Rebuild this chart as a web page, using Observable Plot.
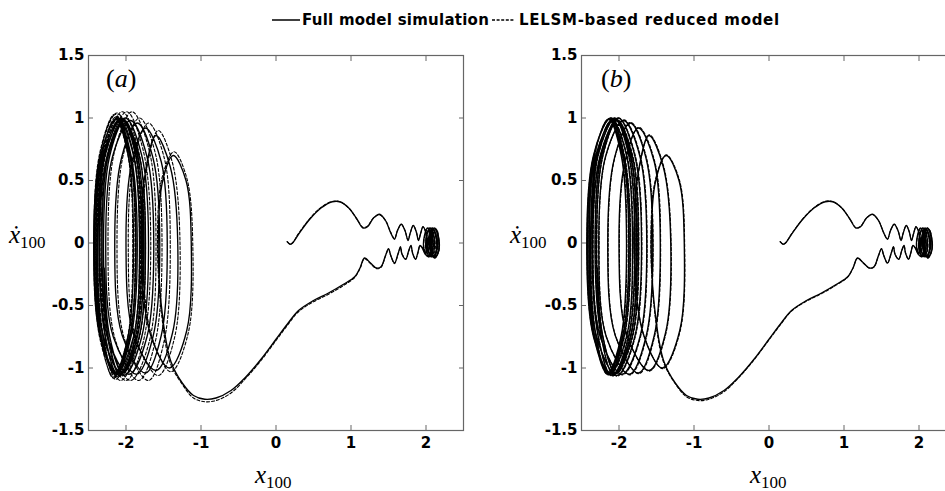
<!DOCTYPE html>
<html><head><meta charset="utf-8">
<script src="https://cdn.jsdelivr.net/npm/d3@7"></script>
<script src="https://cdn.jsdelivr.net/npm/@observablehq/plot@0.6"></script>
<style>
html,body{margin:0;padding:0;background:#fff;overflow:hidden}
#wrap{position:relative;width:945px;height:491px;overflow:hidden;background:#fff}
.panel{position:absolute;top:0;width:470px;height:491px}
.lab{position:absolute;font-family:"Liberation Serif","Times New Roman",serif;color:#000;white-space:nowrap;line-height:1}
.sub{position:relative;top:5px;font-size:17px;font-style:normal;line-height:1}
#legend{position:absolute;left:272px;top:11px;font:bold 15px "DejaVu Sans",sans-serif;display:flex;align-items:center;color:#000;white-space:nowrap}
#legend svg{display:block}
</style></head><body>
<div id="wrap">
  <div id="pa" class="panel" style="left:0"></div>
  <div id="pb" class="panel" style="left:493px"></div>
  <div id="legend">
    <svg width="30" height="10"><line x1="0" x2="28" y1="5" y2="5" stroke="#000" stroke-width="1.5"/></svg>
    <span style="letter-spacing:0.25px">Full model simulation</span>
    <svg width="27" height="10" style="margin-left:3px"><line x1="0" x2="23" y1="5" y2="5" stroke="#000" stroke-width="1.3" stroke-dasharray="3,1.6"/></svg>
    <span style="letter-spacing:0.7px">LELSM-based reduced model</span>
  </div>
</div>
<script>
// ---- tick values and labels ----
const xTicks = [-2, -1, 0, 1, 2];
const xTickLabels = ["-2", "-1", "0", "1", "2"];
const yTicks = [-1.5, -1, -0.5, 0, 0.5, 1, 1.5];
const yTickLabels = ["-1.5", "-1", "-0.5", "0", "0.5", "1", "1.5"];
const panelTags = ["a", "b"];

// ---- full model simulation trajectory [x100, dx100/dt] (same in both panels) ----
const fullModel = [
[0.15,0.01],[0.19,-0.01],[0.22,0.0],[0.3,0.07],[0.45,0.19],[0.6,0.28],[0.75,0.33],[0.85,0.33],[0.97,0.28],[1.08,0.19],[1.16,0.12],[1.22,0.13],[1.3,0.2],[1.38,0.23],[1.46,0.18],[1.53,0.08],[1.58,0.03],[1.62,0.1],[1.67,0.15],[1.72,0.1],[1.76,0.02],[1.79,0.08],[1.83,0.14],[1.87,0.09],[1.9,0.02],[1.93,0.08],[1.96,0.13],[2.0,0.08],
[2.02,0.0],[2.0,-0.08],[1.97,-0.04],[1.98,0.06],[2.02,0.12],[2.06,0.06],[2.07,-0.04],[2.04,-0.1],[2.0,-0.05],[2.01,0.06],[2.05,0.12],[2.1,0.06],[2.11,-0.05],[2.07,-0.11],[2.03,-0.05],[2.04,0.06],[2.08,0.12],[2.13,0.05],[2.14,-0.05],[2.1,-0.11],[2.06,-0.05],[2.07,0.06],[2.11,0.12],[2.16,0.05],[2.17,-0.06],[2.12,-0.12],[2.08,-0.05],[2.09,0.06],[2.13,0.11],[2.17,0.04],[2.17,-0.06],[2.12,-0.11],[2.06,-0.06],[2.05,0.05],[2.09,0.11],[2.14,0.05],[2.15,-0.05],[2.1,-0.11],[2.03,-0.07],[2.0,0.03],[2.03,0.1],[2.08,0.05],[2.09,-0.05],[2.04,-0.11],[1.99,-0.09],
[1.95,-0.04],[1.92,-0.02],[1.89,-0.08],[1.86,-0.13],[1.82,-0.08],[1.8,-0.02],[1.77,-0.06],[1.73,-0.13],[1.68,-0.09],[1.66,-0.03],[1.63,-0.08],[1.58,-0.16],[1.53,-0.1],[1.5,-0.045],[1.46,-0.1],[1.4,-0.19],[1.34,-0.2],[1.26,-0.16],[1.18,-0.12],[1.12,-0.2],[1.05,-0.27],[0.9,-0.33],[0.7,-0.4],[0.5,-0.46],[0.3,-0.54],[0.15,-0.65],[0.0,-0.77],[-0.2,-0.93],[-0.4,-1.07],[-0.6,-1.18],[-0.8,-1.24],[-0.95,-1.25],[-1.1,-1.22],
[-1.25,-1.12],[-1.4,-0.95],[-1.51,-0.6],[-1.57,0],[-1.51,0.5],[-1.37,0.70],[-1.2,0.5],[-1.13,0],[-1.19,-0.7],[-1.42,-1.0],
[-1.68,-0.72],[-1.80,0],[-1.73,0.61],[-1.60,0.86],[-1.41,0.61],[-1.31,0],[-1.38,-0.72],[-1.6,-1.02],
[-1.9,-0.73],[-2.0,0],[-1.92,0.65],[-1.74,0.92],[-1.53,0.65],[-1.45,0],[-1.53,-0.74],[-1.74,-1.04],
[-2.05,-0.74],[-2.15,0],[-2.06,0.68],[-1.85,0.96],[-1.64,0.68],[-1.55,0],[-1.64,-0.75],[-1.86,-1.05],
[-2.17,-0.75],[-2.27,0],[-2.18,0.69],[-1.94,0.98],[-1.72,0.69],[-1.63,0],[-1.72,-0.75],[-1.96,-1.05],
[-2.25,-0.75],[-2.35,0],[-2.25,0.7],[-2.01,1.0],[-1.79,0.7],[-1.70,0],[-1.79,-0.75],[-2.03,-1.06],
[-2.3,-0.75],[-2.40,0],[-2.31,0.7],[-2.06,1.0],[-1.85,0.7],[-1.76,0],[-1.85,-0.75],[-2.09,-1.06],
[-2.34,-0.75],[-2.43,0],[-2.34,0.7],[-2.11,1.0],[-1.9,0.7],[-1.82,0],[-1.9,-0.75],[-2.13,-1.05],
[-2.34,-0.74],[-2.42,0],[-2.34,0.7],[-2.13,0.99],[-1.95,0.7],[-1.87,0],[-1.95,-0.74],[-2.15,-1.05],
[-2.33,-0.74],[-2.40,0],[-2.33,0.7],[-2.14,0.99],[-1.97,0.7],[-1.90,0],[-1.97,-0.74],[-2.15,-1.04],
[-2.31,-0.74],[-2.38,0],[-2.3,0.69],[-2.1,0.98],[-1.93,0.69],[-1.85,0],[-1.93,-0.74],[-2.12,-1.04],
[-2.28,-0.74],[-2.36,0],[-2.28,0.7],[-2.06,0.99],[-1.87,0.7],[-1.79,0],[-1.87,-0.74],[-2.08,-1.05],
[-2.24,-0.74],[-2.32,0],[-2.24,0.69],[-2.03,0.98],[-1.82,0.69],[-1.74,0],[-1.82,-0.74],[-2.04,-1.04],
[-2.22,-0.74],[-2.30,0],[-2.22,0.69],[-2.02,0.98],[-1.84,0.69],[-1.77,0],[-1.84,-0.73],[-2.05,-1.04],[-2.22,-0.74],[-2.29,-0.2]
];

// ---- LELSM-based reduced model, panel (a) ----
const reducedA = [
[0.15,0.01],[0.19,-0.01],[0.22,0.0],[0.3,0.075],[0.45,0.195],[0.6,0.285],[0.75,0.332],[0.85,0.33],[0.97,0.28],[1.08,0.19],[1.16,0.125],[1.22,0.135],[1.3,0.2],[1.38,0.225],[1.46,0.18],[1.53,0.085],[1.58,0.035],[1.62,0.1],[1.67,0.15],[1.72,0.1],[1.76,0.025],[1.79,0.08],[1.83,0.14],[1.87,0.09],[1.9,0.025],[1.93,0.08],[1.96,0.13],[2.0,0.08],
[2.02,0.0],[2.0,-0.08],[1.97,-0.03],[1.99,0.07],[2.03,0.12],[2.07,0.05],[2.08,-0.05],[2.04,-0.11],[2.0,-0.04],[2.02,0.07],[2.06,0.12],[2.11,0.05],[2.12,-0.06],[2.07,-0.11],[2.03,-0.04],[2.05,0.07],[2.09,0.12],[2.14,0.04],[2.14,-0.06],[2.09,-0.11],[2.05,-0.04],[2.07,0.07],[2.12,0.12],[2.17,0.04],[2.17,-0.07],[2.11,-0.12],[2.07,-0.04],[2.09,0.07],[2.14,0.11],[2.17,0.03],[2.16,-0.07],[2.11,-0.11],[2.05,-0.05],[2.05,0.06],[2.1,0.11],[2.14,0.04],[2.14,-0.06],[2.09,-0.11],[2.02,-0.06],[2.0,0.04],[2.04,0.1],[2.09,0.04],[2.09,-0.06],[2.03,-0.11],[1.99,-0.08],
[1.95,-0.035],[1.92,-0.025],[1.89,-0.085],[1.86,-0.13],[1.82,-0.075],[1.8,-0.025],[1.77,-0.065],[1.73,-0.13],[1.68,-0.085],[1.66,-0.035],[1.63,-0.085],[1.58,-0.165],[1.53,-0.1],[1.5,-0.05],[1.46,-0.105],[1.4,-0.195],[1.34,-0.205],[1.26,-0.165],[1.18,-0.125],[1.12,-0.205],[1.05,-0.275],[0.9,-0.34],[0.7,-0.41],[0.5,-0.47],[0.3,-0.55],[0.15,-0.66],[0.0,-0.78],[-0.2,-0.94],[-0.4,-1.08],[-0.6,-1.2],[-0.8,-1.26],[-0.95,-1.27],[-1.1,-1.24],
[-1.25,-1.13],[-1.41,-0.96],[-1.52,-0.6],[-1.58,0],[-1.52,0.52],[-1.36,0.73],[-1.19,0.52],[-1.11,0],[-1.17,-0.72],[-1.40,-1.03],
[-1.66,-0.74],[-1.78,0],[-1.71,0.64],[-1.57,0.90],[-1.38,0.64],[-1.28,0],[-1.35,-0.75],[-1.57,-1.06],
[-1.87,-0.76],[-1.97,0],[-1.89,0.68],[-1.70,0.96],[-1.49,0.68],[-1.41,0],[-1.49,-0.78],[-1.70,-1.1],
[-2.02,-0.77],[-2.12,0],[-2.03,0.72],[-1.82,1.0],[-1.61,0.72],[-1.52,0],[-1.61,-0.79],[-1.83,-1.1],
[-2.14,-0.78],[-2.24,0],[-2.15,0.74],[-1.92,1.05],[-1.69,0.74],[-1.60,0],[-1.69,-0.79],[-1.94,-1.1],
[-2.23,-0.78],[-2.33,0],[-2.23,0.74],[-1.99,1.05],[-1.77,0.74],[-1.67,0],[-1.77,-0.79],[-2.0,-1.1],
[-2.29,-0.78],[-2.39,0],[-2.3,0.74],[-2.05,1.05],[-1.83,0.73],[-1.74,0],[-1.83,-0.78],[-2.07,-1.1],
[-2.34,-0.77],[-2.43,0],[-2.34,0.73],[-2.12,1.04],[-1.9,0.72],[-1.81,0],[-1.9,-0.77],[-2.14,-1.09],
[-2.35,-0.76],[-2.43,0],[-2.35,0.72],[-2.15,1.03],[-1.95,0.72],[-1.87,0],[-1.95,-0.76],[-2.16,-1.08],
[-2.34,-0.76],[-2.41,0],[-2.34,0.72],[-2.16,1.02],[-1.98,0.72],[-1.91,0],[-1.98,-0.76],[-2.17,-1.08],
[-2.33,-0.76],[-2.40,0],[-2.32,0.71],[-2.13,1.01],[-1.95,0.71],[-1.88,0],[-1.95,-0.76],[-2.15,-1.07],
[-2.3,-0.76],[-2.38,0],[-2.3,0.71],[-2.09,1.01],[-1.9,0.71],[-1.82,0],[-1.9,-0.76],[-2.11,-1.07],
[-2.27,-0.76],[-2.35,0],[-2.27,0.71],[-2.06,1.0],[-1.86,0.7],[-1.78,0],[-1.86,-0.76],[-2.07,-1.07],
[-2.25,-0.75],[-2.33,0],[-2.25,0.7],[-2.05,0.99],[-1.87,0.7],[-1.8,0],[-1.87,-0.75],[-2.08,-1.06],[-2.25,-0.75],[-2.32,-0.2]
];

// ---- LELSM-based reduced model, panel (b) ----
const reducedB = [
[0.15,0.01],[0.19,-0.01],[0.22,0.0],[0.3,0.072],[0.45,0.193],[0.6,0.283],[0.75,0.333],[0.85,0.332],[0.97,0.281],[1.08,0.19],[1.16,0.122],[1.22,0.132],[1.3,0.2],[1.38,0.228],[1.46,0.18],[1.53,0.082],[1.58,0.032],[1.62,0.1],[1.67,0.15],[1.72,0.1],[1.76,0.022],[1.79,0.08],[1.83,0.14],[1.87,0.09],[1.9,0.022],[1.93,0.08],[1.96,0.13],[2.0,0.08],
[2.02,0.0],[2.0,-0.08],[1.97,-0.035],[1.985,0.065],[2.025,0.12],[2.065,0.055],[2.075,-0.045],[2.04,-0.105],[2.0,-0.045],[2.015,0.065],[2.055,0.12],[2.105,0.055],[2.115,-0.055],[2.07,-0.11],[2.03,-0.045],[2.045,0.065],[2.085,0.12],[2.135,0.045],[2.14,-0.055],[2.095,-0.11],[2.055,-0.045],[2.07,0.065],[2.115,0.12],[2.165,0.045],[2.17,-0.065],[2.115,-0.12],[2.075,-0.045],[2.09,0.065],[2.135,0.11],[2.17,0.035],[2.165,-0.065],[2.115,-0.11],[2.055,-0.055],[2.05,0.055],[2.095,0.11],[2.14,0.045],[2.145,-0.055],[2.095,-0.11],[2.025,-0.065],[2.0,0.035],[2.035,0.1],[2.085,0.045],[2.09,-0.055],[2.035,-0.11],[1.99,-0.085],
[1.95,-0.038],[1.92,-0.022],[1.89,-0.082],[1.86,-0.13],[1.82,-0.078],[1.8,-0.022],[1.77,-0.062],[1.73,-0.13],[1.68,-0.088],[1.66,-0.032],[1.63,-0.082],[1.58,-0.162],[1.53,-0.1],[1.5,-0.047],[1.46,-0.102],[1.4,-0.192],[1.34,-0.202],[1.26,-0.162],[1.18,-0.122],[1.12,-0.202],[1.05,-0.272],[0.9,-0.335],[0.7,-0.405],[0.5,-0.465],[0.3,-0.545],[0.15,-0.655],[0.0,-0.775],[-0.2,-0.935],[-0.4,-1.075],[-0.6,-1.19],[-0.8,-1.25],[-0.95,-1.26],[-1.1,-1.23],
[-1.25,-1.125],[-1.405,-0.955],[-1.515,-0.6],[-1.575,0],[-1.515,0.505],[-1.37,0.705],[-1.195,0.505],[-1.125,0],[-1.185,-0.705],[-1.415,-1.005],
[-1.675,-0.725],[-1.795,0],[-1.725,0.615],[-1.595,0.865],[-1.405,0.615],[-1.305,0],[-1.375,-0.725],[-1.595,-1.025],
[-1.895,-0.735],[-1.995,0],[-1.915,0.655],[-1.735,0.925],[-1.525,0.655],[-1.445,0],[-1.525,-0.745],[-1.735,-1.045],
[-2.045,-0.745],[-2.145,0],[-2.055,0.685],[-1.845,0.965],[-1.635,0.685],[-1.545,0],[-1.635,-0.755],[-1.855,-1.055],
[-2.165,-0.755],[-2.265,0],[-2.175,0.695],[-1.935,0.985],[-1.715,0.695],[-1.625,0],[-1.715,-0.755],[-1.955,-1.055],
[-2.245,-0.755],[-2.345,0],[-2.245,0.705],[-2.005,1.0],[-1.785,0.705],[-1.695,0],[-1.785,-0.755],[-2.025,-1.065],
[-2.295,-0.755],[-2.395,0],[-2.305,0.705],[-2.055,1.0],[-1.845,0.705],[-1.755,0],[-1.845,-0.755],[-2.085,-1.065],
[-2.335,-0.755],[-2.425,0],[-2.335,0.705],[-2.105,1.0],[-1.895,0.705],[-1.815,0],[-1.895,-0.755],[-2.125,-1.055],
[-2.335,-0.745],[-2.415,0],[-2.335,0.705],[-2.125,0.995],[-1.945,0.705],[-1.865,0],[-1.945,-0.745],[-2.145,-1.055],
[-2.325,-0.745],[-2.395,0],[-2.325,0.705],[-2.135,0.995],[-1.965,0.705],[-1.895,0],[-1.965,-0.745],[-2.145,-1.045],
[-2.305,-0.745],[-2.375,0],[-2.295,0.695],[-2.095,0.985],[-1.925,0.695],[-1.845,0],[-1.925,-0.745],[-2.115,-1.045],
[-2.275,-0.745],[-2.355,0],[-2.275,0.705],[-2.055,0.995],[-1.865,0.705],[-1.785,0],[-1.865,-0.745],[-2.075,-1.055],
[-2.235,-0.745],[-2.315,0],[-2.235,0.695],[-2.025,0.985],[-1.815,0.695],[-1.735,0],[-1.815,-0.745],[-2.035,-1.045],
[-2.215,-0.745],[-2.295,0],[-2.215,0.695],[-2.015,0.985],[-1.835,0.695],[-1.765,0],[-1.835,-0.735],[-2.045,-1.045],[-2.215,-0.745],[-2.285,-0.2]
];

const axisGray = "#666";
function makePanel(reduced) {
  return Plot.plot({
    width: 470, height: 491,
    marginLeft: 88, marginRight: 7, marginTop: 55, marginBottom: 61,
    style: {fontFamily: "DejaVu Sans, sans-serif", background: "transparent", color: "#000"},
    x: {domain: [-2.5, 2.5], axis: null},
    y: {domain: [-1.5, 1.5], axis: null},
    marks: [
      Plot.line(fullModel, {x: d => d[0], y: d => d[1], curve: "catmull-rom", stroke: "#000", strokeWidth: 1.35}),
      Plot.line(reduced, {x: d => d[0], y: d => d[1], curve: "catmull-rom", stroke: "#000", strokeWidth: 1.1, strokeDasharray: "3,2"}),
      Plot.frame({stroke: axisGray, strokeWidth: 1.2}),
      Plot.axisX({anchor: "bottom", ticks: xTicks, tickSize: -5, stroke: axisGray, fill: "none", label: null}),
      Plot.axisX({anchor: "top", ticks: xTicks, tickSize: -5, stroke: axisGray, fill: "none", label: null}),
      Plot.axisY({anchor: "left", ticks: yTicks, tickSize: -5, stroke: axisGray, fill: "none", label: null}),
      Plot.axisY({anchor: "right", ticks: yTicks, tickSize: -5, stroke: axisGray, fill: "none", label: null}),
      Plot.axisX({anchor: "bottom", ticks: xTicks, tickSize: 0, tickPadding: 7, label: null,
        tickFormat: d => xTickLabels[xTicks.indexOf(d)], fontSize: 15, fontWeight: "bold", fill: "#000"}),
      Plot.axisY({anchor: "left", ticks: yTicks, tickSize: 0, tickPadding: 4, label: null,
        tickFormat: d => yTickLabels[yTicks.indexOf(d)], fontSize: 15, fontWeight: "bold", fill: "#000"})
    ]
  });
}

function addLabels(container, tag, tagLeft, xLabLeft, yLabLeft) {
  const t = document.createElement("div");
  t.className = "lab"; t.style.left = tagLeft + "px"; t.style.top = "66px"; t.style.fontSize = "26px";
  t.innerHTML = `(<i>${tag}</i>)`;
  container.appendChild(t);
  const xl = document.createElement("div");
  xl.className = "lab"; xl.style.left = xLabLeft + "px"; xl.style.top = "462px"; xl.style.fontSize = "25px";
  xl.innerHTML = `<i>x</i><span class="sub">100</span>`;
  container.appendChild(xl);
  const yl = document.createElement("div");
  yl.className = "lab"; yl.style.left = yLabLeft + "px"; yl.style.top = "222px"; yl.style.fontSize = "25px";
  yl.innerHTML = `<i>x\u0307</i><span class="sub">100</span>`;
  container.appendChild(yl);
}

const pa = document.getElementById("pa");
const pb = document.getElementById("pb");
pa.appendChild(makePanel(reducedA));
pb.appendChild(makePanel(reducedB));
addLabels(pa, panelTags[0], 106, 255, 9);
addLabels(pb, panelTags[1], 108, 257, 17);
</script>
</body></html>
